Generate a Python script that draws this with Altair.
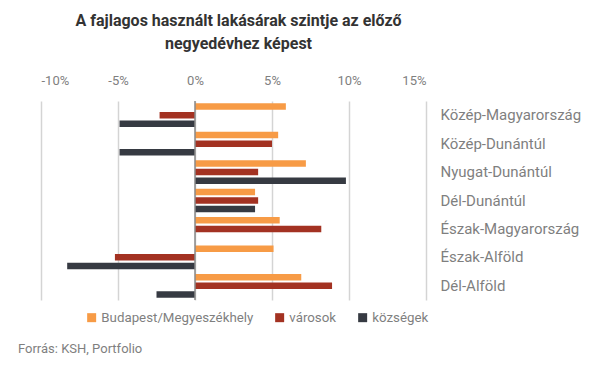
import altair as alt
import pandas as pd

regions = ["Közép-Magyarország", "Közép-Dunántúl", "Nyugat-Dunántúl", "Dél-Dunántúl",
           "Észak-Magyarország", "Észak-Alföld", "Dél-Alföld"]
series = ["Budapest/Megyeszékhely", "városok", "községek"]
budapest = [5.9, 5.4, 7.2, 3.9, 5.5, 5.1, 6.9]
varosok = [-2.3, 5.0, 4.1, 4.1, 8.2, -5.2, 8.9]
kozsegek = [-4.9, -4.9, 9.8, 3.9, None, -8.3, -2.5]
colors = ["#F79B46", "#A33222", "#363A42"]
x_ticks = [-10, -5, 0, 5, 10, 15]

rows = []
for s, vals in zip(series, [budapest, varosok, kozsegek]):
    for r, v in zip(regions, vals):
        if v is not None:
            rows.append({"régió": r, "sorozat": s, "érték": v})
df = pd.DataFrame(rows)

FONT = "Roboto"
GREY = "#7f7f7f"

bars = alt.Chart(df).mark_bar(size=6.5).encode(
    x=alt.X("érték:Q",
            scale=alt.Scale(domain=[-10, 15], nice=False, zero=False),
            axis=alt.Axis(orient="top", values=x_ticks, labelExpr="datum.value + '%'",
                          title=None, domain=False, ticks=False, grid=True,
                          gridColor="#d4d4d4", gridWidth=1.5,
                          labelColor=GREY, labelFontSize=13, labelFont=FONT,
                          labelPadding=14)),
    y=alt.Y("régió:N", sort=regions,
            scale=alt.Scale(paddingInner=0.0, paddingOuter=0.0),
            axis=alt.Axis(orient="right", title=None, domain=False, ticks=False,
                          labelAlign="left", labelPadding=14, labelColor=GREY,
                          labelFontSize=15, labelFont=FONT)),
    yOffset=alt.YOffset("sorozat:N", sort=series,
                        scale=alt.Scale(paddingInner=0.0, paddingOuter=0.15)),
    color=alt.Color("sorozat:N", sort=series,
                    scale=alt.Scale(domain=series, range=colors),
                    legend=alt.Legend(orient="none", direction="horizontal",
                                      legendX=44, legendY=210, title=None,
                                      symbolType="square", symbolSize=81,
                                      symbolStrokeWidth=0, labelFontSize=13.3,
                                      labelColor=GREY, labelFont=FONT,
                                      labelOffset=3, columnPadding=19)),
)

zero = alt.Chart(pd.DataFrame({"x": [0]})).mark_rule(color="#8a8a8a", strokeWidth=1.5).encode(
    x="x:Q"
)

src = alt.Chart(pd.DataFrame({"t": ["Forrás: KSH, Portfolio"]})).mark_text(
    align="left", baseline="middle", font=FONT, fontSize=13, color=GREY
).encode(x=alt.value(-23), y=alt.value(248), text="t:N")

chart = alt.layer(bars, zero, src).properties(
    width=385, height=199,
    padding={"left": 33, "top": 93, "right": 165, "bottom": 62},
    autosize=alt.AutoSizeParams(type="none"),
    title=alt.TitleParams(
        ["A fajlagos használt lakásárak szintje az előző", "negyedévhez képest"],
        font=FONT, fontSize=16, fontWeight="bold", color="#333333",
        anchor="middle", lineHeight=23, offset=22, dx=5),
).configure_view(stroke=None)

chart.save("out.html", embed_options={"renderer": "svg", "actions": False})
